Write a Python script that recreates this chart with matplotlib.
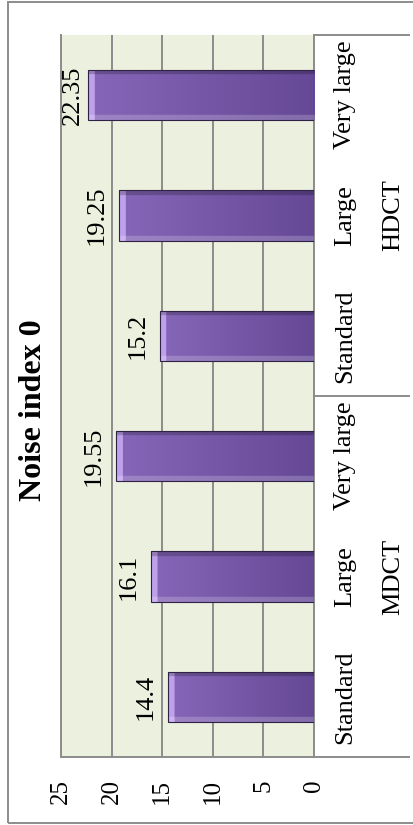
import numpy as np
import matplotlib.pyplot as plt
from matplotlib.colors import to_rgb
from matplotlib.transforms import blended_transform_factory

# chart data (bottom to top as drawn, i.e. left to right in the original)
GROUPS = ["MDCT", "HDCT"]
SIZES = ["Standard", "Large", "Very large"]
VALUES = [14.4, 16.1, 19.55, 15.2, 19.25, 22.35]
VALUE_TICKS = [0, 5, 10, 15, 20, 25]
TITLE = "Noise index 0"

plt.rcParams["font.family"] = ["Liberation Serif", "DejaVu Serif"]

BG = "#ebf0df"
GRID = "#8c8c8c"
BAR_LIGHT = to_rgb("#8666b8")
BAR_DARK = to_rgb("#654896")
BEVEL = to_rgb("#c9acf5")
EDGE = "#2f2245"
FS = 19


def bar_image(value, height, bevel=0.6):
    # gradient along the bar, light bevel at its tip, soft top/bottom edges
    xs = np.linspace(value, 0, 200)
    ys = np.linspace(0, 1, 40)
    t = 1 - xs / value
    img = np.zeros((len(ys), len(xs), 3))
    for k in range(3):
        img[:, :, k] = BAR_LIGHT[k] + (BAR_DARK[k] - BAR_LIGHT[k]) * t[None, :]
    tip = (value - xs) < bevel
    for k in range(3):
        img[:, tip, k] = BEVEL[k] * 0.85 + img[:, tip, k] * 0.15
    img[:4, :, :] *= 0.78
    img[-4:, :, :] = img[-4:, :, :] * 0.8 + 0.2
    return np.clip(img, 0, 1)


def main():
    fig = plt.figure(figsize=(4.13, 8.25), dpi=100)
    ax = fig.add_axes([61 / 413, 68 / 825, 253 / 413, 722 / 825])
    ax.set_facecolor(BG)

    ys = np.arange(len(VALUES))
    h = 0.42
    bars = ax.barh(ys, VALUES, height=h, color="none", edgecolor=EDGE,
                   linewidth=0.8, zorder=4)
    labels = []
    for y, v, b in zip(ys, VALUES, bars):
        im = ax.imshow(bar_image(v, h), extent=(v, 0, y - h / 2, y + h / 2),
                       aspect="auto", zorder=3, interpolation="bilinear")
        im.set_clip_path(b)
        labels.append(ax.annotate(f"{v:g}", (v, y), xytext=(-8, 0),
                                  textcoords="offset points", rotation=90,
                                  ha="right", va="center", fontsize=FS))

    ax.set_xlim(25, 0)
    ax.set_ylim(-0.5, len(VALUES) - 0.5)
    ax.set_xticks(VALUE_TICKS)
    ax.set_xticklabels([str(t) for t in VALUE_TICKS])
    ax.tick_params(axis="x", length=0, pad=16, labelsize=18,
                   labelrotation=90)
    ax.set_yticks([])
    ax.grid(axis="x", color=GRID, linewidth=1.4, zorder=1)
    ax.set_axisbelow(True)
    ax.spines["top"].set_visible(False)
    for side in ["left", "bottom", "right"]:
        ax.spines[side].set_color(GRID)
        ax.spines[side].set_linewidth(1.4)

    # keep data labels inside the plot area, like Excel does
    fig.canvas.draw()
    left = ax.get_window_extent().x0
    for t in labels:
        bb = t.get_window_extent()
        if bb.x0 < left + 1:
            dx, dy = t.xyann
            t.xyann = (dx + (left + 1 - bb.x0) * 72 / fig.dpi, dy)

    # two-level category axis on the right
    tr = blended_transform_factory(ax.transAxes, ax.transData)
    n = len(SIZES)
    for i, y in enumerate(ys):
        ax.text(1.1225, y, SIZES[i % n], transform=tr, rotation=90,
                ha="center", va="center", fontsize=FS)
    for g, name in enumerate(GROUPS):
        mid = g * n + (n - 1) / 2
        ax.text(1.312, mid, name, transform=tr, rotation=90,
                ha="center", va="center", fontsize=FS)
    for g in range(len(GROUPS) + 1):
        ax.plot([1, 1.375], [g * n - 0.5] * 2, transform=tr, color=GRID,
                linewidth=1.4, clip_on=False)

    fig.text(33.5 / 413, 1 - 410 / 825, TITLE, rotation=90, ha="center",
             va="center", fontsize=23, fontweight="bold")

    # outer chart border
    fig.patches.append(plt.Rectangle((8 / 413, 2 / 825), 1.2, 821 / 825,
                                     transform=fig.transFigure, fill=False,
                                     edgecolor="#8c8c8c", linewidth=1.4))

    fig.savefig("out.png", dpi=100)


if __name__ == "__main__":
    main()
